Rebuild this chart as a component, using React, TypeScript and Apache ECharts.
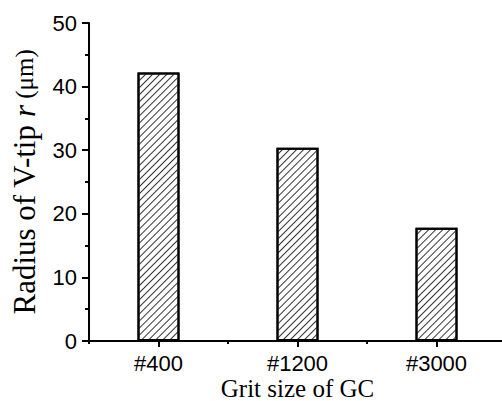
import React, { useEffect, useRef } from "react";
import * as echarts from "echarts";

const categories = ["#400", "#1200", "#3000"];
const radiusValues = [42.2, 30.4, 17.8];
const yTicks = { min: 0, max: 50, interval: 10 };

export default function App() {
  const ref = useRef<HTMLDivElement>(null);
  useEffect(() => {
    if (!ref.current) return;
    const chart = echarts.init(ref.current, null, { renderer: "svg" });
    const sans = "Liberation Sans, Arial, sans-serif";
    const serif = "Liberation Serif, Times New Roman, serif";
    chart.setOption({
      animation: false,
      backgroundColor: "#fff",
      grid: { left: 89, top: 23, width: 417, height: 318, containLabel: false, outerBoundsMode: "none" },
      xAxis: [
        {
          type: "category",
          data: categories,
          position: "bottom",
          axisLine: { show: true, lineStyle: { color: "#000", width: 2 } },
          axisTick: { show: true, alignWithLabel: true, length: 6, lineStyle: { color: "#000", width: 2 } },
          axisLabel: { color: "#000", fontFamily: sans, fontSize: 22, lineHeight: 22, margin: 11 },
          name: "Grit size of GC",
          nameLocation: "middle",
          nameGap: 35,
          nameMoveOverlap: false,
          nameTextStyle: { color: "#000", fontFamily: serif, fontSize: 25, lineHeight: 25 },
          splitLine: { show: false },
        },
        {
          type: "category",
          data: categories,
          position: "bottom",
          axisLine: { show: false },
          axisTick: { show: true, alignWithLabel: false, length: 3, lineStyle: { color: "#000", width: 2 } },
          axisLabel: { show: false },
          splitLine: { show: false },
        },
      ],
      yAxis: {
        type: "value",
        min: yTicks.min,
        max: yTicks.max,
        interval: yTicks.interval,
        axisLine: { show: true, lineStyle: { color: "#000", width: 2 } },
        axisTick: { show: true, inside: false, length: 7, lineStyle: { color: "#000", width: 2 } },
        minorTick: { show: true, splitNumber: 2, length: 4, lineStyle: { color: "#000", width: 2 } },
        splitLine: { show: false },
        axisLabel: { color: "#000", fontFamily: sans, fontSize: 22, margin: 12 },
        name: "{a|Radius of V-tip }{b|r}{c| (μm)}",
        nameLocation: "middle",
        nameGap: 49,
        nameMoveOverlap: false,
        nameTextStyle: {
          color: "#000",
          fontFamily: serif,
          fontSize: 31,
          rich: {
            a: { fontFamily: serif, fontSize: 31, color: "#000" },
            b: { fontFamily: serif, fontSize: 31, fontStyle: "italic", color: "#000" },
            c: { fontFamily: serif, fontSize: 25, color: "#000" },
          },
        },
      },
      series: [
        {
          type: "bar",
          xAxisIndex: 0,
          data: radiusValues,
          barWidth: 42,
          itemStyle: {
            color: "#fff",
            borderColor: "#000",
            borderWidth: 2,
            decal: {
              symbol: "rect",
              symbolSize: 1,
              dashArrayX: [1, 0],
              dashArrayY: [1, 3.8],
              rotation: -Math.PI / 4,
              color: "#333",
              backgroundColor: "#fff",
            },
          },
        },
      ],
    });
    return () => chart.dispose();
  }, []);
  return (
    <div
      ref={ref}
      style={{ position: "fixed", left: 0, top: 0, width: 502, height: 401 }}
    />
  );
}
